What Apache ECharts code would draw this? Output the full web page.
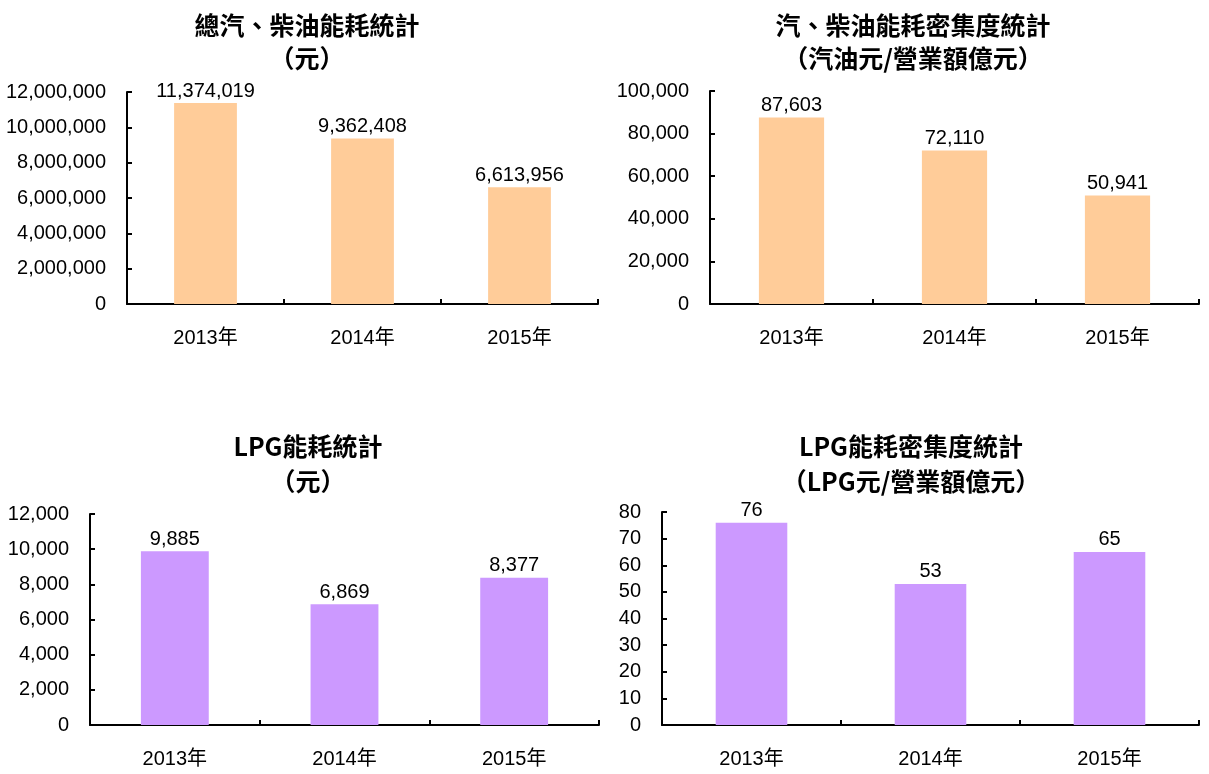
<!DOCTYPE html>
<html>
<head>
<meta charset="utf-8">
<title>能耗統計</title>
<script src="https://cdn.jsdelivr.net/npm/echarts@6/dist/echarts.min.js"></script>
<style>
  html, body { margin: 0; padding: 0; background: #fff; }
  #chart { width: 1209px; height: 774px; }
</style>
</head>
<body>
<div id="chart"></div>
<script>
// 類別
var years = ['2013年', '2014年', '2015年']
// 總汽、柴油能耗（元）
var fuelCost = [11374019, 9362408, 6613956]
// 汽、柴油能耗密集度（汽油元/營業額億元）
var fuelIntensity = [87603, 72110, 50941]
// LPG能耗（元）
var lpgCost = [9885, 6869, 8377]
// LPG能耗密集度（LPG元/營業額億元）
var lpgIntensity = [76, 53, 65]

var titles = [
  '總汽、柴油能耗統計\n（元）',
  '汽、柴油能耗密集度統計\n（汽油元/營業額億元）',
  'LPG能耗統計\n（元）',
  'LPG能耗密集度統計\n（LPG元/營業額億元）'
]
var yMax = [12000000, 100000, 12000, 80]
var yStep = [2000000, 20000, 2000, 10]

var numFont = '"Liberation Sans", "Noto Sans CJK TC", sans-serif'
var cjkFont = '"Noto Sans CJK TC", sans-serif'
var orange = '#FFCC99'
var purple = '#CC99FF'

function fmt(v) {
  return Number(v).toLocaleString('en-US')
}

var grids = [
  { left: 127, right: 611, top: 92, bottom: 470 },
  { left: 710, right: 10, top: 91, bottom: 470 },
  { left: 90, right: 610, top: 514, bottom: 49 },
  { left: 662, right: 10, top: 512, bottom: 49 }
]

var titlePos = [
  { left: 302, top: 4, lineHeight: 33 },
  { left: 908, top: 4, lineHeight: 33 },
  { left: 303, top: 424, lineHeight: 35 },
  { left: 906, top: 424, lineHeight: 35 }
]

var axisLine = { show: true, lineStyle: { color: '#000', width: 2 } }
var axisTick = { show: true, inside: true, length: 5, lineStyle: { color: '#000', width: 2 } }

var chart = echarts.init(document.getElementById('chart'))

chart.setOption({
  animation: false,
  title: titles.map(function (t, i) {
    return {
      text: t,
      left: titlePos[i].left,
      top: titlePos[i].top,
      textAlign: 'center',
      textStyle: {
        fontFamily: cjkFont,
        fontSize: 25,
        fontWeight: 'bold',
        color: '#000',
        lineHeight: titlePos[i].lineHeight
      }
    }
  }),
  grid: grids,
  xAxis: grids.map(function (g, i) {
    return {
      type: 'category',
      gridIndex: i,
      data: years,
      axisLine: axisLine,
      axisTick: axisTick,
      axisLabel: {
        margin: 24,
        fontFamily: numFont,
        fontSize: 20,
        color: '#000'
      }
    }
  }),
  yAxis: grids.map(function (g, i) {
    return {
      type: 'value',
      gridIndex: i,
      min: 0,
      max: yMax[i],
      interval: yStep[i],
      axisLine: axisLine,
      axisTick: axisTick,
      splitLine: { show: false },
      axisLabel: {
        margin: 21,
        fontFamily: numFont,
        fontSize: 20,
        color: '#000',
        formatter: fmt
      }
    }
  }),
  series: [fuelCost, fuelIntensity, lpgCost, lpgIntensity].map(function (d, i) {
    return {
      type: 'bar',
      xAxisIndex: i,
      yAxisIndex: i,
      data: d,
      barWidth: '40%',
      itemStyle: { color: i < 2 ? orange : purple },
      label: {
        show: true,
        position: 'top',
        distance: 2,
        fontFamily: numFont,
        fontSize: 20,
        color: '#000',
        formatter: function (p) { return fmt(p.value) }
      }
    }
  })
})
</script>
</body>
</html>
